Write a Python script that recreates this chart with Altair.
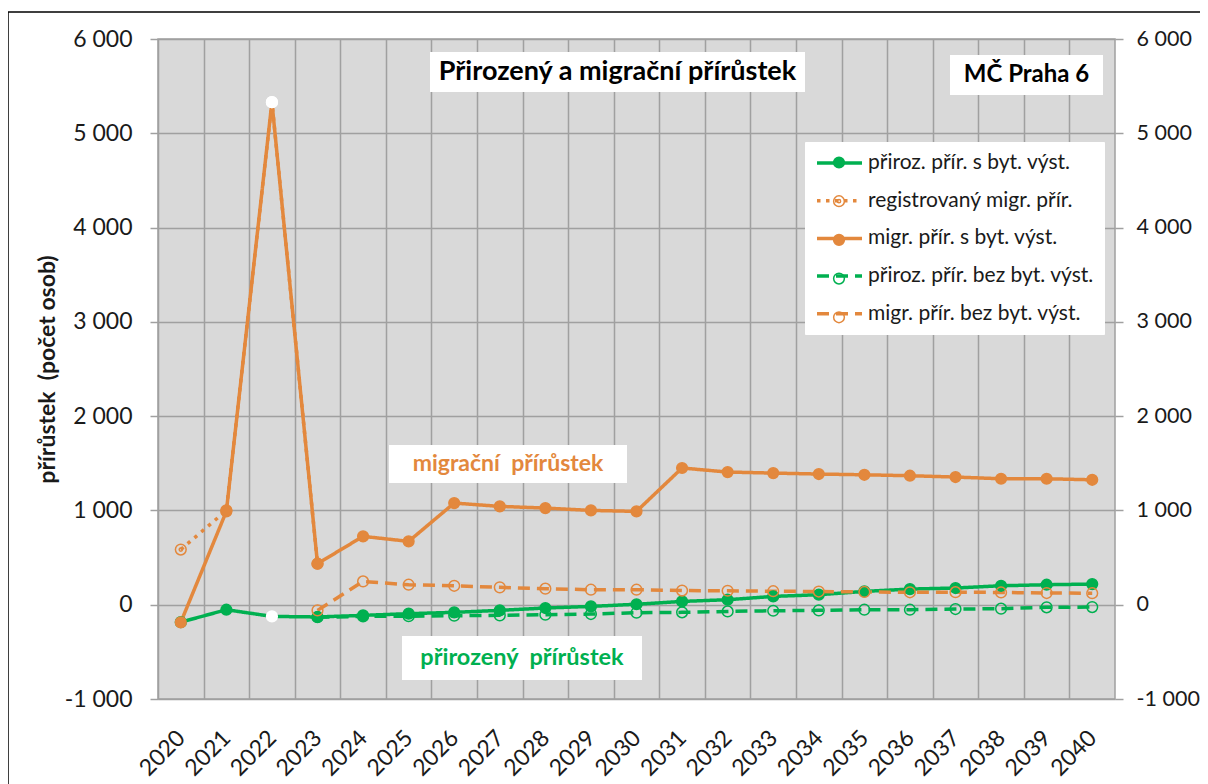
import altair as alt
import pandas as pd

years = list(range(2020, 2041))
series_names = [
    "přiroz. přír. s byt. výst.",
    "registrovaný migr. přír.",
    "migr. přír. s byt. výst.",
    "přiroz. přír. bez byt. výst.",
    "migr. přír. bez byt. výst.",
]
natural_with = [-185, -53, -124, -130, -113, -95, -81, -60, -35, -18, 5,
                35, 53, 88, 106, 141, 166, 177, 201, 212, 219]
registered = [585, 1000, 5330, 435] + [None] * 17
migr_with = [-187, 990, 5330, 435, 725, 672, 1078, 1043, 1025, 1000, 990,
             1450, 1407, 1396, 1386, 1378, 1368, 1354, 1336, 1336, 1325]
natural_without = [None] * 3 + [-133, -124, -122, -117, -113, -106, -99, -85,
                                -81, -71, -64, -60, -53, -53, -46, -42, -28, -25]
migr_without = [None] * 3 + [-60, 247, 212, 201, 184, 170, 159, 159,
                             150, 148, 143, 140, 135, 132, 133, 130, 124, 122]
y_ticks = [-1000, 0, 1000, 2000, 3000, 4000, 5000, 6000]

GREEN = "#00B050"
ORANGE = "#E3883D"
colors = [GREEN, ORANGE, ORANGE, GREEN, ORANGE]
dashes = [[1, 0], [3.5, 5.5], [1, 0], [12, 7], [12, 7]]
fills = [GREEN, "transparent", ORANGE, "transparent", "transparent"]
ring = "M1,0A1,1,0,1,1,-1,0A1,1,0,1,1,1,0ZM0.3,0A0.3,0.3,0,1,1,-0.3,0A0.3,0.3,0,1,1,0.3,0Z"
shapes = ["circle", ring, "circle", "circle", "circle"]

rows = []
for k, (name, vals) in enumerate(zip(series_names, [natural_with, registered, migr_with,
                                                     natural_without, migr_without])):
    for yr, v in zip(years, vals):
        if v is not None:
            rows.append({"year": yr, "value": v, "series": name, "k": k})
df = pd.DataFrame(rows)

FONT = "Lato"
TXT = "#1a1a1a"
GRID = "#A0A0A0"
fmt = "replace(replace(format(datum.value, ','), ',', ' '), '\u2212', '-')"

xscale = alt.Scale(domain=[2019.5, 2040.5], nice=False, zero=False)
yscale = alt.Scale(domain=[-1000, 6000], nice=False, zero=False)


def x_axis():
    return alt.Axis(values=[y - 0.5 for y in years], labelExpr="format(datum.value + 0.5, 'd')",
                    grid=True, gridColor=GRID, gridWidth=1.5, ticks=False, tickSize=0, domain=False,
                    labelAngle=-45, labelAlign="right", labelBaseline="middle", labelPadding=35,
                    labelOffset=23, labelFont=FONT, labelFontSize=23, labelColor=TXT, title=None,
                    labelOverlap=False, labelFlush=False, labelBound=False)


y_left = alt.Axis(values=y_ticks, labelExpr=fmt, grid=True, gridColor=GRID, gridWidth=1.5,
                  tickColor=GRID, tickSize=8, tickWidth=1.5, domain=False, labelPadding=18,
                  labelFont=FONT, labelFontSize=23, labelColor=TXT,
                  title="přírůstek\u00a0 (počet osob)", titleFont=FONT, titleFontSize=23,
                  titleFontWeight="bold", titleColor=TXT, titleX=-111, titleY=330,
                  titleAngle=270, titleAlign="center", titleBaseline="middle")
y_right = alt.Axis(values=y_ticks, labelExpr=fmt, grid=False, orient="right",
                   tickColor=GRID, tickSize=8, tickWidth=1.5, domain=False, labelPadding=13,
                   labelFont=FONT, labelFontSize=21.5, labelColor=TXT, title=None)

legA = alt.Legend(title=None, orient="none", legendX=647, legendY=103, padding=10,
                  symbolType="M-1,0H4", symbolSize=324, symbolStrokeWidth=3.5,
                  labelOffset=31, rowPadding=16.7, labelFont=FONT, labelFontSize=21,
                  labelColor=TXT, labelLimit=400, fillColor="white", strokeColor="white")
legB = alt.Legend(title=None, orient="none", legendX=660.5, legendY=103, padding=10,
                  symbolSize=115, symbolStrokeWidth=1.5, labelOffset=0, rowPadding=16.7,
                  labelFont=FONT, labelFontSize=21, labelExpr="''", labelLimit=20)

base = alt.Chart(df)

lines = base.mark_line(strokeWidth=3.5).encode(
    x=alt.X("year:Q", scale=xscale, axis=x_axis()),
    y=alt.Y("value:Q", scale=yscale, axis=y_left),
    color=alt.Color("series:N", scale=alt.Scale(domain=series_names, range=colors), legend=legA),
    strokeDash=alt.StrokeDash("series:N", scale=alt.Scale(domain=series_names, range=dashes),
                              legend=legA),
    detail="series:N",
    order="year:Q",
)

kdom = list(range(len(series_names)))
is2022 = alt.datum.year == 2022
points = base.mark_point(size=115, strokeWidth=1.5, opacity=1).encode(
    x=alt.X("year:Q", scale=xscale, axis=x_axis()),
    y=alt.Y("value:Q", scale=yscale, axis=y_right),
    stroke=alt.condition(is2022, alt.value("white"),
                         alt.Stroke("k:O", scale=alt.Scale(domain=kdom, range=colors), legend=legB)),
    fill=alt.condition(is2022, alt.value("white"),
                       alt.Fill("k:O", scale=alt.Scale(domain=kdom, range=fills), legend=legB)),
    shape=alt.Shape("k:O", scale=alt.Scale(domain=kdom, range=shapes), legend=legB),
)

one = pd.DataFrame({"a": [0]})


def box(x1, x2, y1, y2):
    return alt.Chart(one).mark_rect(fill="white").encode(
        x=alt.value(x1), x2=alt.value(x2), y=alt.value(y1), y2=alt.value(y2))


def label(text, cx, cy, color, size):
    return alt.Chart(pd.DataFrame({"t": [text]})).mark_text(
        font=FONT, fontSize=size, fontWeight="bold", color=color,
        align="center", baseline="middle").encode(
        x=alt.value(cx), y=alt.value(cy), text="t:N")


border = alt.Chart(one).mark_rect(fill="transparent", stroke="black", strokeWidth=1.5).encode(
    x=alt.value(-150), x2=alt.value(1100), y=alt.value(-27), y2=alt.value(800))

chart = alt.layer(
    border,
    lines,
    points,
    box(272, 647, 13, 53), label("Přirozený a migrační přírůstek", 459.5, 33, "black", 27),
    box(792, 945, 16, 56), label("MČ Praha 6", 868.5, 36, "black", 24),
    box(231, 469, 406, 444), label("migrační\u00a0 přírůstek", 350, 425, ORANGE, 23),
    box(244, 484, 597, 641), label("přirozený\u00a0 přírůstek", 364, 619, GREEN, 23.5),
).resolve_scale(y="independent").properties(
    width=957, height=660,
    autosize=alt.AutoSizeParams(type="none"),
    padding={"left": 150, "top": 31, "right": 85, "bottom": 85},
).configure_view(fill="#D9D9D9", stroke=GRID, strokeWidth=1.5)

chart.save("out.html", embed_options={"renderer": "svg", "actions": False})
